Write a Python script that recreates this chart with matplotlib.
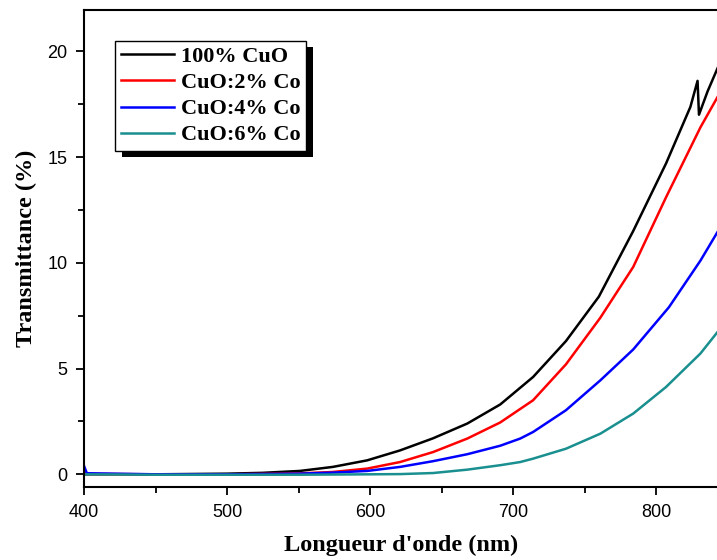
import matplotlib
matplotlib.use("Agg")
import matplotlib.pyplot as plt
from matplotlib.patches import Rectangle
from matplotlib.ticker import MultipleLocator

# --- data (wavelength in nm, transmittance in %) ---
wl_cuo = [400, 450, 500, 525, 551, 574, 598, 621, 644, 668, 691, 714, 737,
          760, 784, 807, 824, 829, 830, 836, 843]
t_cuo = [0.0, 0.0, 0.03, 0.07, 0.16, 0.35, 0.66, 1.13, 1.7, 2.4, 3.3, 4.6,
         6.3, 8.4, 11.5, 14.7, 17.37, 18.6, 17.0, 18.1, 19.2]

wl_co2 = [400, 402, 450, 500, 550, 574, 598, 621, 644, 668, 691, 714, 737,
          761, 784, 807, 831, 843]
t_co2 = [0.1, 0.02, 0.0, 0.0, 0.04, 0.11, 0.27, 0.58, 1.05, 1.69, 2.45, 3.5,
         5.2, 7.4, 9.8, 13.1, 16.4, 17.84]

wl_co4 = [400, 402, 450, 500, 550, 574, 598, 621, 644, 668, 691, 705, 714,
          737, 761, 784, 809, 831, 843]
t_co4 = [0.4, 0.05, 0.0, 0.0, 0.03, 0.08, 0.16, 0.35, 0.62, 0.95, 1.35, 1.69,
         2.0, 3.03, 4.44, 5.9, 7.9, 10.1, 11.46]

wl_co6 = [400, 450, 500, 550, 600, 621, 644, 668, 691, 705, 714, 737, 761,
          784, 807, 831, 843]
t_co6 = [0.0, -0.02, -0.02, -0.02, 0.0, 0.01, 0.06, 0.22, 0.43, 0.58, 0.74,
         1.21, 1.92, 2.87, 4.13, 5.71, 6.73]

labels = ["100% CuO", "CuO:2% Co", "CuO:4% Co", "CuO:6% Co"]
colors = ["black", "red", "blue", "#1a8f8f"]

fig = plt.figure(figsize=(7.17, 5.6), dpi=100)
ax = fig.add_axes([84 / 717, 1 - 487 / 560, 635 / 717, 477 / 560])

series = [(wl_cuo, t_cuo), (wl_co2, t_co2), (wl_co4, t_co4), (wl_co6, t_co6)]
for (x, y), lab, c in zip(series, labels, colors):
    ax.plot(x, y, color=c, lw=1.8, label=lab)

ax.set_xlim(400, 844)
ax.set_ylim(-0.6, 21.95)
ax.xaxis.set_major_locator(MultipleLocator(100))
ax.xaxis.set_minor_locator(MultipleLocator(50))
ax.yaxis.set_major_locator(MultipleLocator(5))
ax.yaxis.set_minor_locator(MultipleLocator(2.5))
ax.tick_params(which="both", direction="out", width=1.3, top=False, right=False)
ax.tick_params(which="major", length=6, labelsize=13, pad=6)
ax.tick_params(which="minor", length=4)
for lab in ax.get_xticklabels() + ax.get_yticklabels():
    lab.set_fontfamily("Liberation Sans")
for s in ax.spines.values():
    s.set_linewidth(1.5)

serif = {"family": "Liberation Serif", "weight": "bold", "size": 17.5}
ax.set_xlabel("Longueur d'onde (nm)", fontdict=serif, labelpad=10)
ax.set_ylabel("Transmittance (%)", fontdict=serif, labelpad=7)

leg = ax.legend(loc="upper left", bbox_to_anchor=(31 / 635, 1 - 31 / 477),
                frameon=True, fancybox=False, edgecolor="black", framealpha=1,
                prop={"family": "Liberation Serif", "weight": "bold", "size": 16},
                handlelength=2.4, handletextpad=0.3, labelspacing=0.25,
                borderpad=0.25, borderaxespad=0)
leg.get_frame().set_linewidth(1.0)
leg.set_zorder(5)

# black drop shadow behind the legend box
fig.canvas.draw()
bb = leg.get_window_extent().transformed(fig.transFigure.inverted())
dx, dy = 7 / 717, 6 / 560
ax.add_patch(Rectangle((bb.x0 + dx, bb.y0 - dy), bb.width, bb.height,
                       transform=fig.transFigure, facecolor="black",
                       edgecolor="none", zorder=4, clip_on=False))

fig.savefig("out.png", dpi=100)
